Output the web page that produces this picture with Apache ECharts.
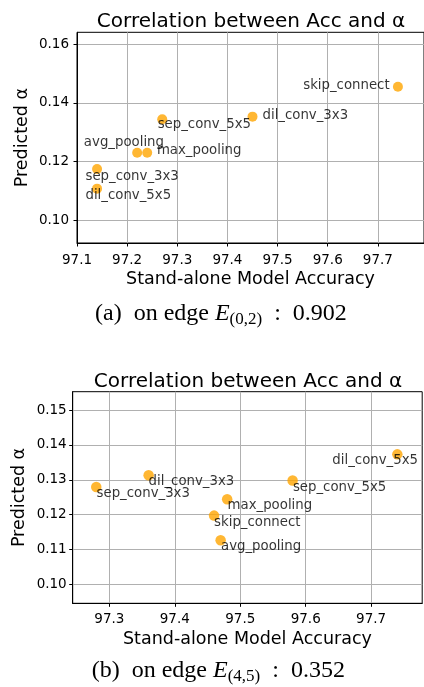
<!DOCTYPE html>
<html>
<head>
<meta charset="utf-8">
<script src="https://cdn.jsdelivr.net/npm/echarts@6/dist/echarts.min.js"></script>
<style>
html,body{margin:0;padding:0;background:#fff;}
#c{width:424px;height:687px;}
</style>
</head>
<body>
<div id="c"></div>
<script>
// ---- Data: chart (a), edge E(0,2)
var namesA = ['skip_connect','dil_conv_3x3','sep_conv_5x5','avg_pooling','max_pooling','sep_conv_3x3','dil_conv_5x5'];
var accA   = [97.74, 97.45, 97.27, 97.22, 97.24, 97.14, 97.14];
var alphaA = [0.1455, 0.1353, 0.1344, 0.1230, 0.1230, 0.1175, 0.1108];
var xTicksA = [97.1, 97.2, 97.3, 97.4, 97.5, 97.6, 97.7];
var yTicksA = [0.10, 0.12, 0.14, 0.16];

// ---- Data: chart (b), edge E(4,5)
var namesB = ['sep_conv_3x3','dil_conv_3x3','skip_connect','max_pooling','avg_pooling','sep_conv_5x5','dil_conv_5x5'];
var accB   = [97.28, 97.36, 97.46, 97.48, 97.47, 97.58, 97.74];
var alphaB = [0.1279, 0.1313, 0.1197, 0.1244, 0.1126, 0.1298, 0.1373];
var xTicksB = [97.3, 97.4, 97.5, 97.6, 97.7];
var yTicksB = [0.10, 0.11, 0.12, 0.13, 0.14, 0.15];

var titleText = 'Correlation between Acc and \u03b1';
var xName = 'Stand-alone Model Accuracy';
var yName = 'Predicted \u03b1';
var captionA = ['(a)', 'on edge', 'E', '(0,2)', '0.902'];
var captionB = ['(b)', 'on edge', 'E', '(4,5)', '0.352'];

// ---- label placement (style only): [align, dx, dy]
var labA = [['right',-8.3,-0.7],['left',10,-1],['left',-4.6,5.7],['left',-53.3,-10],['left',9.7,-2],['left',-11.6,7.7],['left',-11.6,7.3]];
var labB = [['left',0.3,6],['left',0,6.4],['left',0,7],['left',0.4,6.4],['left',0.4,6.4],['left',0.3,7],['right',20.7,6.4]];

var FONT = 'DejaVu Sans';
var SERIF = 'Liberation Serif';

function pts(names, xs, ys, lab) {
  return names.map(function (n, i) {
    return {
      name: n, value: [xs[i], ys[i]],
      label: { show: true, position: ['50%','50%'], formatter: n,
               align: lab[i][0], verticalAlign: 'middle', offset: [lab[i][1], lab[i][2]],
               fontFamily: FONT, fontSize: 13.3, color: '#000' }
    };
  });
}

function xAxisCfg(gi, min, max, ticks, margin) {
  return {
    type: 'value', gridIndex: gi, min: min, max: max,
    name: xName, nameLocation: 'middle', nameGap: 27, nameMoveOverlap: false,
    nameTextStyle: { fontFamily: FONT, fontSize: 17.5, color: '#000' },
    axisLine: { show: true, lineStyle: { color: '#000', width: 1 } },
    axisTick: { show: true, length: 3.5, customValues: ticks, lineStyle: { color: '#000', width: 1 } },
    axisLabel: { customValues: ticks, margin: margin, fontFamily: FONT, fontSize: 13.5, color: '#000',
                 formatter: function (v) { return v.toFixed(1); } },
    splitLine: { show: true, customValues: ticks, lineStyle: { color: '#b0b0b0', width: 1 } }
  };
}
function yAxisCfg(gi, min, max, ticks, margin, gap) {
  return {
    type: 'value', gridIndex: gi, min: min, max: max,
    name: yName, nameLocation: 'middle', nameGap: gap, nameMoveOverlap: false,
    nameTextStyle: { fontFamily: FONT, fontSize: 17.5, color: '#000' },
    axisLine: { show: true, lineStyle: { color: '#000', width: 1 } },
    axisTick: { show: true, length: 3.5, customValues: ticks, lineStyle: { color: '#000', width: 1 } },
    axisLabel: { customValues: ticks, margin: margin, fontFamily: FONT, fontSize: 13.5, color: '#000',
                 formatter: function (v) { return v.toFixed(2); } },
    splitLine: { show: true, customValues: ticks, lineStyle: { color: '#b0b0b0', width: 1 } }
  };
}

function caption(parts, left, top) {
  return { type: 'text', left: left, top: top,
    style: { text: '{n|' + parts[0] + '  ' + parts[1] + ' }{e|' + parts[2] + '}{s|' + parts[3] + '}{n|  :  ' + parts[4] + '}',
      rich: {
        n: { fontFamily: SERIF, fontSize: 24, lineHeight: 28, color: '#000' },
        e: { fontFamily: SERIF, fontSize: 24, lineHeight: 28, fontStyle: 'italic', color: '#000' },
        s: { fontFamily: SERIF, fontSize: 17, lineHeight: 16, verticalAlign: 'bottom', color: '#000' }
      } } };
}

var chart = echarts.init(document.getElementById('c'), null, { renderer: 'canvas' });
chart.setOption({
  animation: false,
  backgroundColor: '#fff',
  title: [
    { text: titleText, left: 246, top: 6.5, textAlign: 'center',
      textStyle: { fontFamily: FONT, fontSize: 20, fontWeight: 'normal', color: '#000' } },
    { text: titleText, left: 243, top: 366.5, textAlign: 'center',
      textStyle: { fontFamily: FONT, fontSize: 20, fontWeight: 'normal', color: '#000' } }
  ],
  grid: [
    { left: 77, top: 32.3, width: 353, height: 210.7, show: true, borderColor: '#000', borderWidth: 1, containLabel: false },
    { left: 72.7, top: 391.7, width: 349.5, height: 211.6, show: true, borderColor: '#000', borderWidth: 1, containLabel: false }
  ],
  xAxis: [
    xAxisCfg(0, 97.1, 97.792, xTicksA, 10),
    xAxisCfg(1, 97.244, 97.778, xTicksB, 9)
  ],
  yAxis: [
    yAxisCfg(0, 0.0923, 0.164, yTicksA, 8, 46),
    yAxisCfg(1, 0.0945, 0.1553, yTicksB, 6, 44.5)
  ],
  series: [
    { type: 'scatter', xAxisIndex: 0, yAxisIndex: 0, symbolSize: 10,
      itemStyle: { color: 'orange', opacity: 0.8 },
      data: pts(namesA, accA, alphaA, labA) },
    { type: 'scatter', xAxisIndex: 1, yAxisIndex: 1, symbolSize: 10.5,
      itemStyle: { color: 'orange', opacity: 0.8 },
      data: pts(namesB, accB, alphaB, labB) }
  ],
  graphic: [
    caption(captionA, 95, 302),
    caption(captionB, 91.7, 659)
  ]
});
</script>
</body>
</html>
